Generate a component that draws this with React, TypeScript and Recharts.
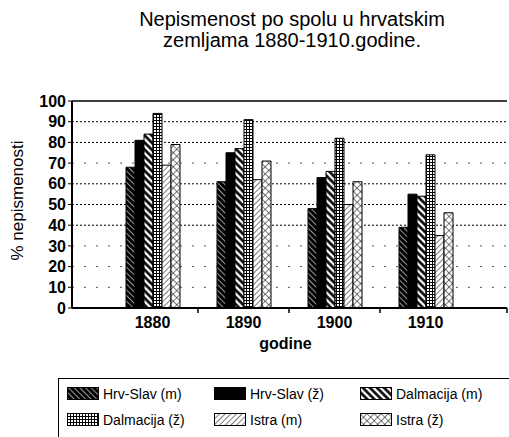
import React from "react";
import {
  Bar,
  BarChart,
  CartesianGrid,
  ReferenceLine,
  XAxis,
  YAxis,
} from "recharts";

const years = ["1880", "1890", "1900", "1910"];
const hrvSlavM = [68, 61, 48, 39];
const hrvSlavZ = [81, 75, 63, 55];
const dalmacijaM = [84, 77, 66, 54];
const dalmacijaZ = [94, 91, 82, 74];
const istraM = [69, 62, 50, 35];
const istraZ = [79, 71, 61, 46];
const yTicks = [0, 10, 20, 30, 40, 50, 60, 70, 80, 90, 100];

const series = [
  { key: "hsm", name: "Hrv-Slav (m)", fill: "url(#pat-hsm)" },
  { key: "hsz", name: "Hrv-Slav (ž)", fill: "#000" },
  { key: "dm", name: "Dalmacija (m)", fill: "url(#pat-dm)" },
  { key: "dz", name: "Dalmacija (ž)", fill: "url(#pat-dz)" },
  { key: "im", name: "Istra (m)", fill: "url(#pat-im)" },
  { key: "iz", name: "Istra (ž)", fill: "url(#pat-iz)" },
];

const data = years.map((year, i) => ({
  year,
  hsm: hrvSlavM[i],
  hsz: hrvSlavZ[i],
  dm: dalmacijaM[i],
  dz: dalmacijaZ[i],
  im: istraM[i],
  iz: istraZ[i],
}));

const FONT = "'Liberation Sans', Arial, Helvetica, sans-serif";

function Patterns() {
  return (
    <svg width={0} height={0} style={{ position: "absolute" }}>
      <defs>
        <pattern id="pat-hsm" width={4} height={4} patternUnits="userSpaceOnUse" patternTransform="rotate(-45)">
          <rect width={4} height={4} fill="#000" />
          <line x1={0} y1={0} x2={0} y2={4} stroke="#fff" strokeWidth={1.2} />
        </pattern>
        <pattern id="pat-dm" width={5} height={5} patternUnits="userSpaceOnUse" patternTransform="rotate(-45)">
          <rect width={5} height={5} fill="#fff" />
          <line x1={1.5} y1={0} x2={1.5} y2={5} stroke="#000" strokeWidth={2.6} />
        </pattern>
        <pattern id="pat-dz" width={3} height={3} patternUnits="userSpaceOnUse">
          <rect width={3} height={3} fill="#fff" />
          <path d="M0 0.5 H3 M0.5 0 V3" stroke="#000" strokeWidth={1} />
        </pattern>
        <pattern id="pat-im" width={4} height={4} patternUnits="userSpaceOnUse" patternTransform="rotate(45)">
          <rect width={4} height={4} fill="#fff" />
          <line x1={0} y1={0} x2={0} y2={4} stroke="#000" strokeWidth={1} />
        </pattern>
        <pattern id="pat-iz" width={5} height={5} patternUnits="userSpaceOnUse" patternTransform="rotate(45)">
          <rect width={5} height={5} fill="#fff" />
          <path d="M0 0 V5 M0 0 H5" stroke="#000" strokeWidth={1} />
        </pattern>
      </defs>
    </svg>
  );
}

function YearTick(props: any) {
  const { x, y, payload, index } = props;
  const half = payload?.offset ?? 45.5;
  const tickX = index === years.length - 1 ? x + half + 36 : x + half;
  return (
    <g>
      <line x1={tickX} y1={y} x2={tickX} y2={y + 5} stroke="#000" strokeWidth={1.5} />
      <text x={x} y={y + 20} textAnchor="middle" fontFamily={FONT} fontSize={16} fontWeight="bold" fill="#000">
        {payload.value}
      </text>
    </g>
  );
}

function Legend6() {
  const cols = [67, 214, 360];
  const rows = [387, 413];
  return (
    <>
      <div
        style={{
          position: "absolute",
          left: 58,
          top: 378,
          width: 470,
          height: 80,
          border: "1px solid #000",
        }}
      />
      {series.map((s, i) => {
        const left = cols[i % 3];
        const top = rows[Math.floor(i / 3)];
        return (
          <div
            key={s.key}
            style={{
              position: "absolute",
              left,
              top,
              height: 13,
              display: "flex",
              alignItems: "center",
              fontFamily: FONT,
              fontSize: 14,
              whiteSpace: "nowrap",
            }}
          >
            <svg width={32} height={13} style={{ marginRight: 4 }}>
              <rect x={0.5} y={0.5} width={31} height={12} fill={s.fill} stroke="#000" />
            </svg>
            <span>{s.name}</span>
          </div>
        );
      })}
    </>
  );
}

export default function App() {
  return (
    <div
      style={{
        position: "absolute",
        left: 0,
        top: 0,
        width: 509,
        height: 437,
        overflow: "hidden",
        background: "#fff",
      }}
    >
      <Patterns />
      <div
        style={{
          position: "absolute",
          left: 0,
          width: 584,
          top: 9,
          textAlign: "center",
          fontFamily: FONT,
          fontSize: 20,
          lineHeight: "21px",
          color: "#000",
        }}
      >
        Nepismenost po spolu u hrvatskim
        <br />
        zemljama 1880-1910.godine.
      </div>
      <BarChart
        width={509}
        height={437}
        data={data}
        margin={{ top: 101, right: 2, left: 0, bottom: 79 }}
        barSize={9}
        barGap={0}
      >
        <CartesianGrid
          vertical={false}
          horizontalValues={[40, 50, 60, 80, 90]}
          stroke="#000"
          strokeDasharray="2 2"
        />
        <CartesianGrid
          vertical={false}
          horizontalValues={[10, 20, 30, 70]}
          stroke="#555"
          strokeDasharray="2 10"
        />
        <ReferenceLine y={100} stroke="#000" strokeWidth={1.5} ifOverflow="extendDomain" />
        <XAxis
          dataKey="year"
          height={50}
          padding={{ left: 35, right: 36 }}
          axisLine={{ stroke: "#000", strokeWidth: 2 }}
          tickLine={false}
          tickSize={0}
          tickMargin={0}
          interval={0}
          tick={<YearTick />}
          label={{
            value: "godine",
            position: "insideBottom",
            offset: 0,
            content: ({ viewBox }: any) => (
              <text
                x={viewBox.x + viewBox.width / 2 - 4}
                y={viewBox.y + 41}
                textAnchor="middle"
                fontFamily={FONT}
                fontSize={16}
                fontWeight="bold"
                fill="#000"
              >
                godine
              </text>
            ),
          }}
        />
        <YAxis
          width={72}
          domain={[0, 100]}
          ticks={yTicks}
          interval={0}
          axisLine={{ stroke: "#000", strokeWidth: 2 }}
          tickLine={{ stroke: "#000" }}
          tickSize={4}
          tick={{ fontFamily: FONT, fontSize: 16, fontWeight: "bold", fill: "#000" }}
          label={{
            value: "% nepismenosti",
            position: "insideLeft",
            content: ({ viewBox }: any) => {
              const cx = viewBox.x + 17;
              const cy = viewBox.y + viewBox.height / 2 - 4;
              return (
                <text
                  x={cx}
                  y={cy}
                  transform={`rotate(-90 ${cx} ${cy})`}
                  textAnchor="middle"
                  dominantBaseline="central"
                  fontFamily={FONT}
                  fontSize={17}
                  fill="#000"
                >
                  % nepismenosti
                </text>
              );
            },
          }}
        />
        {series.map((s) => (
          <Bar
            key={s.key}
            dataKey={s.key}
            name={s.name}
            fill={s.fill}
            stroke="#000"
            strokeWidth={1}
            isAnimationActive={false}
          />
        ))}
      </BarChart>
      <Legend6 />
    </div>
  );
}
